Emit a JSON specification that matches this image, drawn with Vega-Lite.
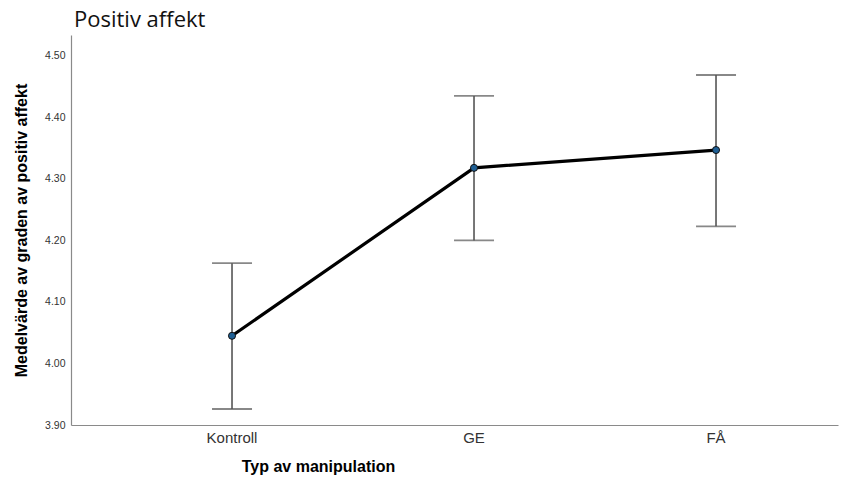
{
  "$schema": "https://vega.github.io/schema/vega-lite/v6.json",
  "width": 767,
  "height": 390,
  "autosize": {"type": "none"},
  "padding": {"left": 71, "top": 35, "right": 27, "bottom": 61},
  "background": "white",
  "title": {
    "text": "Positiv affekt",
    "anchor": "start",
    "frame": "group",
    "offset": 3,
    "dx": 3,
    "font": "Open Sans",
    "fontSize": 22,
    "fontWeight": "normal",
    "color": "#111111"
  },
  "config": {
    "view": {"stroke": null},
    "axis": {"grid": false, "ticks": false, "domainColor": "#8a8a8a", "domainWidth": 1.2, "labelFont": "Liberation Sans", "titleFont": "Liberation Sans", "labelColor": "#333333", "titleColor": "#000000"}
  },
  "data": {
    "values": [
      {"group": "Kontroll", "mean": 4.045, "lo": 3.926, "hi": 4.163},
      {"group": "GE", "mean": 4.318, "lo": 4.200, "hi": 4.435},
      {"group": "FÅ", "mean": 4.347, "lo": 4.223, "hi": 4.469}
    ]
  },
  "encoding": {
    "x": {
      "field": "group",
      "type": "nominal",
      "sort": ["Kontroll", "GE", "FÅ"],
      "scale": {"type": "band", "paddingInner": 0, "paddingOuter": 0.0847, "align": 0.976},
      "axis": {"title": "Typ av manipulation", "labelAngle": 0, "labelFontSize": 15, "labelPadding": 5, "titleFontSize": 16, "titleFontWeight": "bold", "titleX": 247, "titleY": 46, "titleBaseline": "alphabetic"}
    }
  },
  "layer": [
    {
      "mark": {"type": "rule", "color": "#555555", "strokeWidth": 1.6},
      "encoding": {
        "y": {
          "field": "lo",
          "type": "quantitative",
          "scale": {"domain": [3.9, 4.534], "nice": false, "zero": false},
          "axis": {"title": "Medelvärde av graden av positiv affekt", "values": [3.9, 4.0, 4.1, 4.2, 4.3, 4.4, 4.5], "format": ".2f", "labelFontSize": 10.5, "labelPadding": 6, "titleFontSize": 16, "titleFontWeight": "bold", "titlePadding": 15}
        },
        "y2": {"field": "hi"}
      }
    },
    {
      "mark": {"type": "tick", "orient": "horizontal", "color": "#555555", "size": 40, "thickness": 1.8},
      "encoding": {"y": {"field": "hi", "type": "quantitative"}}
    },
    {
      "mark": {"type": "tick", "orient": "horizontal", "color": "#555555", "size": 40, "thickness": 1.8},
      "encoding": {"y": {"field": "lo", "type": "quantitative"}}
    },
    {
      "mark": {"type": "line", "color": "#000000", "strokeWidth": 3.2},
      "encoding": {"y": {"field": "mean", "type": "quantitative"}}
    },
    {
      "mark": {"type": "point", "shape": "circle", "filled": true, "fill": "#1f5f94", "stroke": "#111111", "strokeWidth": 1, "size": 50, "opacity": 1},
      "encoding": {"y": {"field": "mean", "type": "quantitative"}}
    }
  ]
}
